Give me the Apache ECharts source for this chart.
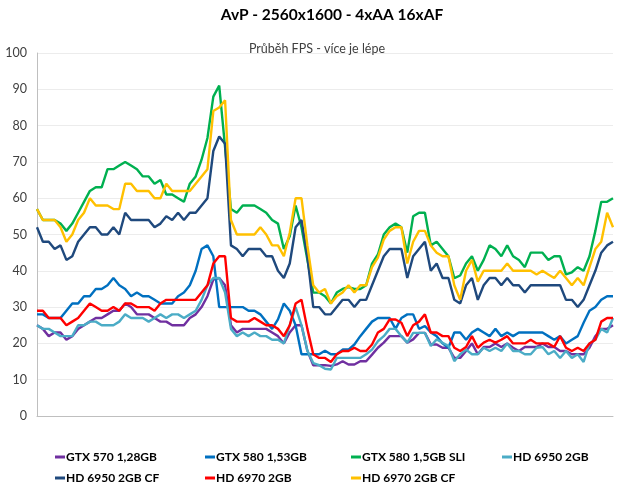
<!DOCTYPE html>
<html>
<head>
<meta charset="utf-8">
<script src="https://cdn.jsdelivr.net/npm/echarts@6/dist/echarts.min.js"></script>
<style>html,body{margin:0;padding:0;background:#fff}#c{width:620px;height:488px}</style>
</head>
<body>
<div id="c"></div>
<script>
const titleText = 'AvP - 2560x1600 - 4xAA 16xAF';
const subtitleText = 'Průběh FPS - více je lépe';
const seriesNames = ['GTX 570 1,28GB','GTX 580 1,53GB','GTX 580 1,5GB SLI','HD 6950 2GB','HD 6950 2GB CF','HD 6970 2GB','HD 6970 2GB CF'];
const yTicks = [0,10,20,30,40,50,60,70,80,90,100];

const gtx570 = [25,24,22,23,23,21,22,24,25,26,27,27,28,29,29,31,30,28,28,28,27,26,26,25,25,
  25,27,28,30,33,37.6,38,36,25,23,24,24,24,24,24,23,22,20,23,25,25,18,14,14,14,
  13.8,14.2,15.1,14.2,14.2,15.1,15.1,16.9,18.8,20.2,22,22,22,20.2,21.1,22.9,22.9,19.7,19.7,18.8,18.8,16,16,17.9,20,
  17,19,19,20,19,20,18.8,17.9,19,19,19,20,19,19,17.9,17.9,17,17,17,18.8,22,24,24,25];
const gtx580 = [28,28,27,27,27,29,31,31,33,33,35,35,36,38,36,35,33,34,33,33,32,31,31,31,33,
  34,36,40,46,47,44,30,30,30,30,30,29,29,28,26,24,26.6,31,29,25,17,17,17,17,18,
  17,17,18.3,18.3,19.7,22,24,26,27,27,27,24,27,28,28,24,24.8,23,22,20,18.8,23,23,21,23,
  24,23,22,24,22,23,22,23,23,23,23,23,22,21,22,20,21,22,25.7,29,30,32,33,33];
const gtx580sli = [57,54,54,54,53,51,53,56,59,62,63,63,68,68,69,70,69,68,66,66,64,65,61,61,60,
  59,64,66,70.6,76.6,88,91,74,57,56,58,58,58,57,56,54,53,46,49.5,58,52,43,34,34,33,
  31,34,35,35.5,35,35,36,42,44.5,50,52,53,52,45,55,56,56,47,48,46,44,38,38.7,42,44,
  40,43,47,46,44,47,44,43,41,45,45,45,43,44,44,39,39.6,41,40,44,51,59,59,60];
const hd6950 = [25,24,24,23,22,22,22,25,25,26,26,25,25,25,26,28,27,27,27,26,27,28,27,28,28,
  27,28,29,32,36,38,38,34,24,22,23,22,23,22,22,21,21,20,25,30,25,18,14.6,14,13,
  12.8,16,16,16,16,16,17,18.3,20.6,22,24,24,22,20.2,22.9,22.9,22.9,19.3,21.1,20.2,19.3,15.1,17,18.3,17,
  17,18.8,17.9,18.8,17.9,20,17.9,17.9,17,17,18.8,19,17,17.9,16,17.9,16,17,14.9,20,21,24,23,27];
const hd6950cf = [52,48,48,46,47,43,44,48,50,52,52,50,50,52,50,56,54,54,54,54,52,53,55,54,56,
  54,56,56,58,60,73,77,75,47,46,44,46,46,46,44,44,40,38,42,52,54,44,30,30,28,
  28,30,32,32,30,32,32,36,40,44,46,46,46,38,44,46,48,40,42,38,38,32,31,36,38,
  32,36,38,38,36,38,36,36,34,36,36,36,36,36,36,32,32,30,32,36,40,45,47,48];
const hd6970 = [29,29,27,27,27,25,26,27,29,31,30,29,29,30,29,31,31,30,30,30,29,31,32,32,32,
  32,32,32,34,36,42,44,44,27,26,26,26,27,26,25,25,24,22,25,31,32,24,17,16,16,
  14.9,17,17.9,17.9,18.8,17.9,17.9,19.7,23,24,26.6,26.6,25.7,22,25,26,28,23,23,22,22,18.8,17.9,19,22,
  18.8,20.2,21,20.2,21,22,20,20,20,21,20,20,20,19,22,18.8,17.9,18.8,17.9,20,21,26,27,27];
const hd6970cf = [57,54,54,54,52,48,50,54,56,60,58,58,58,57,57,64,64,62,62,62,60,60,64,62,62,
  62,62,64,66,68,84,85,87,54,50,50,50,50,52,50,47,47,44,50.5,60,60,47,36,34,35,
  31,33,34,36,34,36,36,41,43.6,48.6,51,52,52,42,48,51,51,47,45,44,44,36,32,40,43,
  37,40,40,40,40,42,40,40,40,40,39,40,39,38,40,38,36,38,36,41,46,48,56,52];

const categories = gtx570.map((_, i) => String(i + 1));
const colors = ['#7030A0','#0070C0','#00B050','#4BACC6','#1F497D','#FF0000','#FFC000'];
const allData = [gtx570, gtx580, gtx580sli, hd6950, hd6950cf, hd6970, hd6970cf];

const legendPos = [[55,451],[205,451],[351,451],[502,451],[55,472],[205,472],[351,472]];

const chart = echarts.init(document.getElementById('c'), null, {renderer:'canvas'});
chart.setOption({
  animation: false,
  textStyle: {fontFamily: 'Lato, "Open Sans", sans-serif'},
  title: [
    {text: titleText, left: 327, top: 2, textAlign: 'center',
     textStyle: {fontSize: 15.5, fontWeight: 'bold', color: '#000', fontFamily: 'Lato'}},
    {text: subtitleText, left: 312, top: 37, textAlign: 'center',
     textStyle: {fontSize: 12.5, fontWeight: 'normal', color: '#404040', fontFamily: 'Lato'}}
  ],
  legend: seriesNames.map((n, i) => ({
    data: [n], left: legendPos[i][0], top: legendPos[i][1], icon: 'rect',
    itemWidth: 10, itemHeight: 3, padding: 0, itemGap: 0,
    textStyle: {fontSize: 12, fontWeight: 'bold', color: '#000', fontFamily: 'Lato', padding: [0,0,0,-4]}
  })),
  grid: {left: 37, right: 7, top: 53, bottom: 72, containLabel: false},
  xAxis: {
    type: 'category', data: categories, boundaryGap: false,
    axisLine: {show: true, lineStyle: {color: '#bfbfbf', width: 1}},
    axisTick: {show: false}, axisLabel: {show: false}, splitLine: {show: false}
  },
  yAxis: {
    type: 'value', min: yTicks[0], max: yTicks[yTicks.length - 1], interval: 10,
    axisLine: {show: true, lineStyle: {color: '#bfbfbf', width: 1}},
    axisTick: {show: false},
    axisLabel: {fontSize: 12.5, color: '#404040', margin: 10, fontFamily: 'Lato'},
    splitLine: {show: true, lineStyle: {color: '#ececec', width: 1}}
  },
  series: seriesNames.map((n, i) => ({
    name: n, type: 'line', data: allData[i], showSymbol: false, symbol: 'none',
    lineStyle: {color: colors[i], width: 2.4}, itemStyle: {color: colors[i]}
  }))
});
</script>
</body>
</html>
